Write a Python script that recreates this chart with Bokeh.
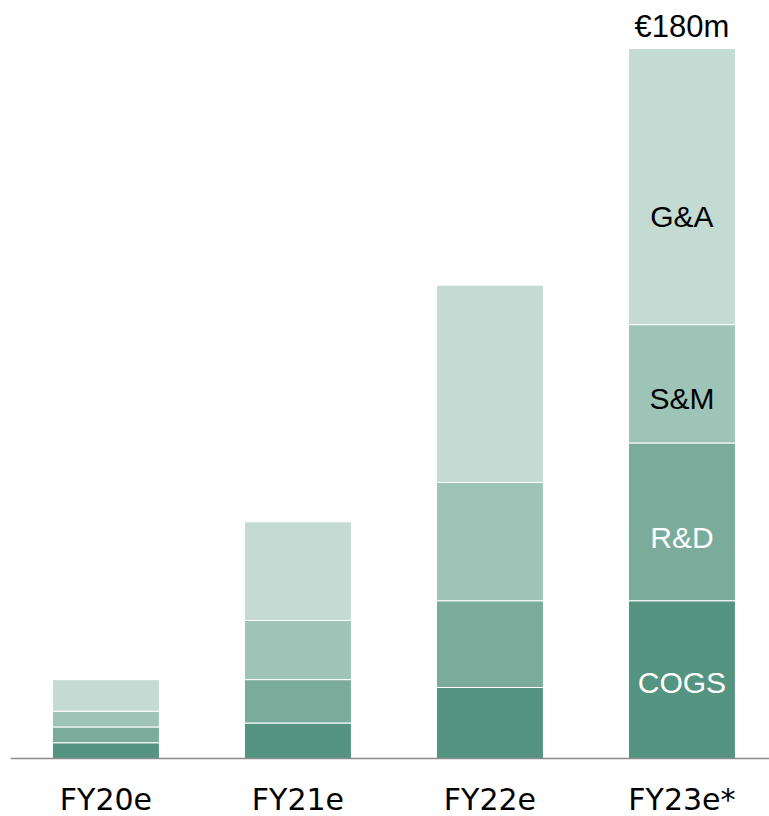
from bokeh.plotting import figure
from bokeh.models import ColumnDataSource, Range1d, Span
from bokeh.core.properties import value
from bokeh.embed import file_html
from bokeh.resources import INLINE

years = ["FY20e", "FY21e", "FY22e", "FY23e*"]
segments = ["COGS", "R&D", "S&M", "G&A"]
cogs = [4, 9, 18, 40]
rnd = [4, 11, 22, 40]
snm = [4, 15, 30, 30]
gna = [8, 25, 50, 70]
colors = ["#559480", "#7aab9b", "#9ec4b8", "#c4dbd3"]
total_label = "€180m"

p = figure(width=769, height=816, output_backend="svg", toolbar_location=None,
           x_range=Range1d(-0.497, 3.456), y_range=Range1d(-14.70, 192.17),
           min_border_left=10, min_border_right=0, min_border_top=0, min_border_bottom=0)
p.outline_line_color = None
p.grid.visible = False
p.axis.visible = False

xs = list(range(len(years)))
series = [cogs, rnd, snm, gna]
bottoms = [0] * len(years)
seg_bottoms = []
for vals, col in zip(series, colors):
    tops = [b + v for b, v in zip(bottoms, vals)]
    src = ColumnDataSource(dict(x=xs, bottom=bottoms, top=tops))
    p.vbar(x="x", bottom="bottom", top="top", width=0.557, source=src,
           fill_color=col, line_color="white", line_width=1)
    seg_bottoms.append(bottoms)
    bottoms = tops

# baseline (category axis line)
p.add_layout(Span(location=0, dimension="width", line_color="#8c8c8c", line_width=1.5))

# segment labels on last bar
last = len(years) - 1
lab_y = [seg_bottoms[i][last] + series[i][last] / 2 for i in range(len(segments))]
lab_off = [3, 16, 15, 30]
lab_col = ["white", "white", "black", "black"]
for s, y, off, c in zip(segments, lab_y, lab_off, lab_col):
    p.text(x=[last], y=[y], text=[s], text_align="center", text_baseline="middle",
           y_offset=off, text_color=c, text_font=value("Liberation Sans"),
           text_font_size="30px")

p.text(x=[last], y=[bottoms[last]], text=[total_label], text_align="center",
       text_baseline="middle", y_offset=-22, text_color="black",
       text_font=value("Liberation Sans"), text_font_size="31px")

# category labels
p.text(x=xs, y=[0] * len(years), text=years, text_align="center",
       text_baseline="middle", y_offset=41, text_color="black",
       text_font=value("DejaVu Sans"), text_font_size="30px")

open("out.html", "w").write(file_html(p, INLINE))
